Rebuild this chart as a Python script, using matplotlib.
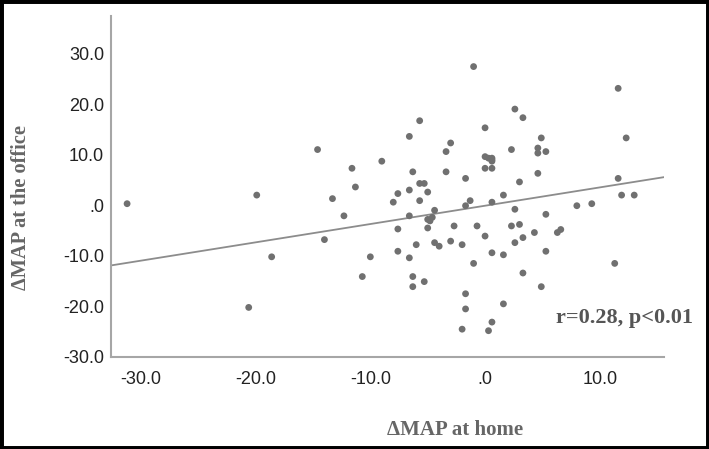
import numpy as np
import matplotlib.pyplot as plt
from matplotlib.patches import Rectangle

# change in MAP at home (x) vs at the office (y)
map_home = [-31.2, -19.9, -20.6, -18.6, -14.6, -14.0, -13.3, -12.3, -11.6, -11.3,
            -10.7, -10.0, -9.0, -8.0, -7.6, -7.6, -7.6, -6.6, -6.6, -6.6,
            -6.6, -6.3, -6.3, -6.3, -6.0, -5.7, -5.7, -5.7, -5.3, -5.3,
            -5.0, -5.0, -5.0, -4.8, -4.6, -4.4, -4.4, -4.0, -3.4, -3.4,
            -3.0, -3.0, -2.7, -2.0, -2.0, -1.7, -1.7, -1.7, -1.7, -1.3,
            -1.0, -1.0, -0.7, 0.0, 0.0, 0.0, 0.0, 0.3, 0.3, 0.6,
            0.6, 0.6, 0.6, 0.6, 0.6, 0.6, 1.6, 1.6, 1.6, 2.3,
            2.3, 2.6, 2.6, 2.6, 3.0, 3.0, 3.3, 3.3, 3.3, 4.3,
            4.6, 4.6, 4.6, 4.9, 4.9, 5.3, 5.3, 5.3, 6.3, 6.6,
            8.0, 9.3, 11.3, 11.6, 11.6, 11.9, 12.3, 13.0]
map_office = [0.3, 2.0, -20.2, -10.2, 11.0, -6.8, 1.3, -2.1, 7.3, 3.6,
              -14.1, -10.2, 8.7, 0.6, 2.3, -4.7, -9.1, 13.6, 3.0, -2.1,
              -10.4, 6.6, -14.1, -16.1, -7.8, 16.7, 0.9, 4.3, 4.3, -15.1,
              2.6, -2.8, -4.5, -3.1, -2.4, -1.0, -7.4, -8.1, 10.6, 6.6,
              12.3, -7.1, -4.1, -7.8, -24.5, 5.3, -0.1, -17.5, -20.5, 0.9,
              27.4, -11.5, -4.1, 15.3, 9.6, 7.3, -6.1, 9.3, -24.8, 9.3,
              9.0, 8.7, 7.3, 0.6, -9.4, -23.1, 2.0, -9.8, -19.5, 11.0,
              -4.1, 19.0, -0.8, -7.4, 4.6, -3.8, 17.3, -6.4, -13.4, -5.4,
              11.3, 10.3, 6.3, 13.3, -16.1, 10.6, -1.8, -9.1, -5.4, -4.8,
              -0.1, 0.3, -11.5, 23.1, 5.3, 2.0, 13.3, 2.0]

# fit line as drawn in the figure (slope, intercept)
fit_slope = 0.362
fit_intercept = -0.1

x_ticks = [-30, -20, -10, 0, 10]
y_ticks = [30, 20, 10, 0, -10, -20, -30]
stat_text = "r=0.28, p<0.01"


def spss_fmt(v):
    s = f"{v:.1f}"
    return ".0" if v == 0 else s


x = np.array(map_home)
y = np.array(map_office)

fig = plt.figure(figsize=(7.09, 4.49), dpi=100)
ax = fig.add_axes([0.1566, 0.2049, 0.78, 0.7595])

ax.scatter(x, y, s=24, color="#707070", edgecolors="none", zorder=3)

xlim = (-32.6, 15.6)
xl = np.array(xlim)
ax.plot(xl, fit_intercept + fit_slope * xl, color="#8c8c8c", lw=1.3, zorder=2)

ax.set_xlim(*xlim)
ax.set_ylim(-30, 37.4)
ax.set_xticks(x_ticks)
ax.set_yticks(y_ticks)
ax.set_xticklabels([spss_fmt(v) for v in x_ticks])
ax.set_yticklabels([spss_fmt(v) for v in y_ticks])
ax.tick_params(length=0, labelsize=13, colors="#222222")
ax.tick_params(axis="x", pad=10)
ax.tick_params(axis="y", pad=5)
for lab in ax.get_xticklabels() + ax.get_yticklabels():
    lab.set_family("Liberation Sans")

for side in ["top", "right"]:
    ax.spines[side].set_visible(False)
for side in ["left", "bottom"]:
    ax.spines[side].set_color("#a6a6a6")
    ax.spines[side].set_linewidth(1.5)

ax.set_xlabel("\u0394MAP at home", family="Liberation Serif", fontweight="bold",
              fontsize=15, color="#666666")
ax.xaxis.set_label_coords(0.622, -0.185)
ax.set_ylabel("\u0394MAP at the office", family="Liberation Serif", fontweight="bold",
              fontsize=14.7, color="#666666")
ax.yaxis.set_label_coords(-0.145, 0.437)

ax.text(1.052, -22.2, stat_text, transform=ax.get_yaxis_transform(),
        ha="right", va="center", family="Liberation Serif", fontweight="bold",
        fontsize=16, color="#555555")

fig.patches.append(Rectangle((0, 0), 1, 1, transform=fig.transFigure, fill=False,
                             edgecolor="black", linewidth=5))

fig.savefig("out.png", dpi=100)
